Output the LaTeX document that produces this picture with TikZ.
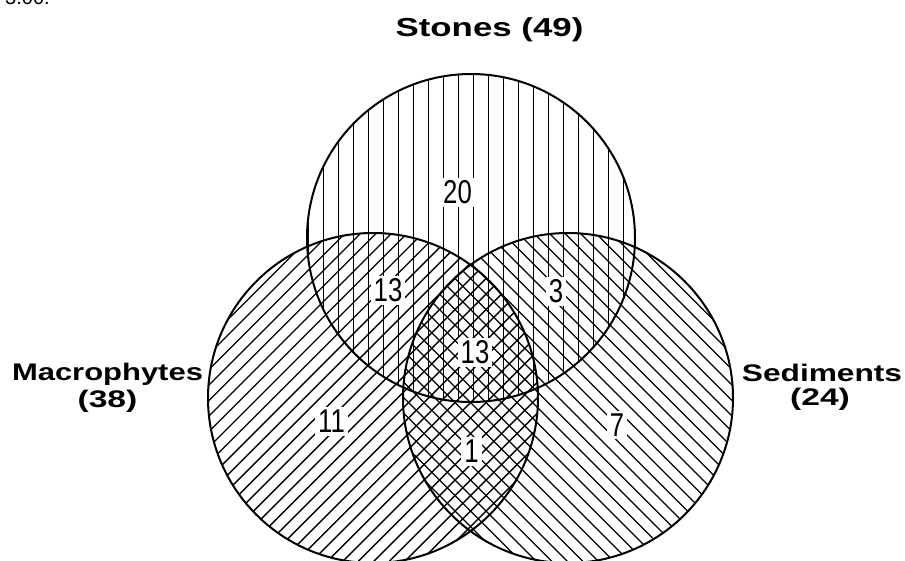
\documentclass[tikz,border=0pt]{standalone}
\usepackage{fontspec}
\setmainfont{Liberation Sans}
\tikzset{
  hatch/.style={line width=1.4pt, line cap=round},
  ring/.style={line width=2pt},
  num/.style={fill=white, inner sep=3pt, font=\fontsize{33}{33}\selectfont},
  lab/.style={font=\bfseries\fontsize{24}{24}\selectfont, inner sep=0pt, anchor=base},
}
\begin{document}
\begin{tikzpicture}[x=1pt,y=-1pt]
\useasboundingbox (0,0) rectangle (905,560);
\clip (0,0) rectangle (905,560);
\coordinate (S) at (471,238);
\coordinate (M) at (373,398);
\coordinate (D) at (568,398);
% Stones: vertical hatching
\begin{scope}
  \clip (S) circle[radius=164];
  \foreach \k in {0,...,22} {
    \pgfmathsetmacro\xx{308.3+15*\k}
    \draw[hatch] (\xx,60) -- (\xx,410);
  }
\end{scope}
% Macrophytes: "/" hatching
\begin{scope}
  \clip (M) circle[radius=165];
  \foreach \k in {30,...,70} {
    \pgfmathsetmacro\cc{5+15.5*\k}
    \draw[hatch] (\cc,0) -- ({\cc-600},600);
  }
\end{scope}
% Sediments: "\" hatching
\begin{scope}
  \clip (D) circle[radius=165];
  \foreach \k in {-8,...,30} {
    \pgfmathsetmacro\dd{6+15.5*\k}
    \draw[hatch] (\dd,0) -- ({\dd+600},600);
  }
\end{scope}
% outlines
\draw[ring] (S) circle[radius=164];
\draw[ring] (M) circle[radius=165];
\draw[ring] (D) circle[radius=165];
% region counts
\node[num] (n20) at (457.5,192.5) {\scalebox{0.78}[1]{20}};
\node[num] (n13a) at (388,290.5) {\scalebox{0.78}[1]{13}};
\node[num] (n3) at (556,291.5) {\scalebox{0.78}[1]{3}};
\node[num] (n13b) at (475,352.5) {\scalebox{0.78}[1]{13}};
\node[num] (n11) at (331.5,421.5) {\scalebox{0.78}[1]{11}};
\node[num] (n1) at (471.5,451.5) {\scalebox{0.78}[1]{1}};
\node[num] (n7) at (617,425) {\scalebox{0.78}[1]{7}};
% set labels
\node[lab] (st) at (489.5,36) {\fontsize{26}{26}\selectfont\scalebox{1.34}[1]{Stones (49)}};
\node[lab] (mac) at (107.5,380) {\scalebox{1.29}[1]{Macrophytes}};
\node[lab] (mac2) at (107.5,407) {\scalebox{1.4}[1]{(38)}};
\node[lab] (sed) at (822,381) {\scalebox{1.32}[1]{Sediments}};
\node[lab] (sed2) at (820,405) {\scalebox{1.4}[1]{(24)}};
% clipped fragment of text at top left
\node[anchor=base west, inner sep=0pt, font=\fontsize{20}{20}\selectfont] (frag) at (5,4) {3.00.};
\end{tikzpicture}
\end{document}
